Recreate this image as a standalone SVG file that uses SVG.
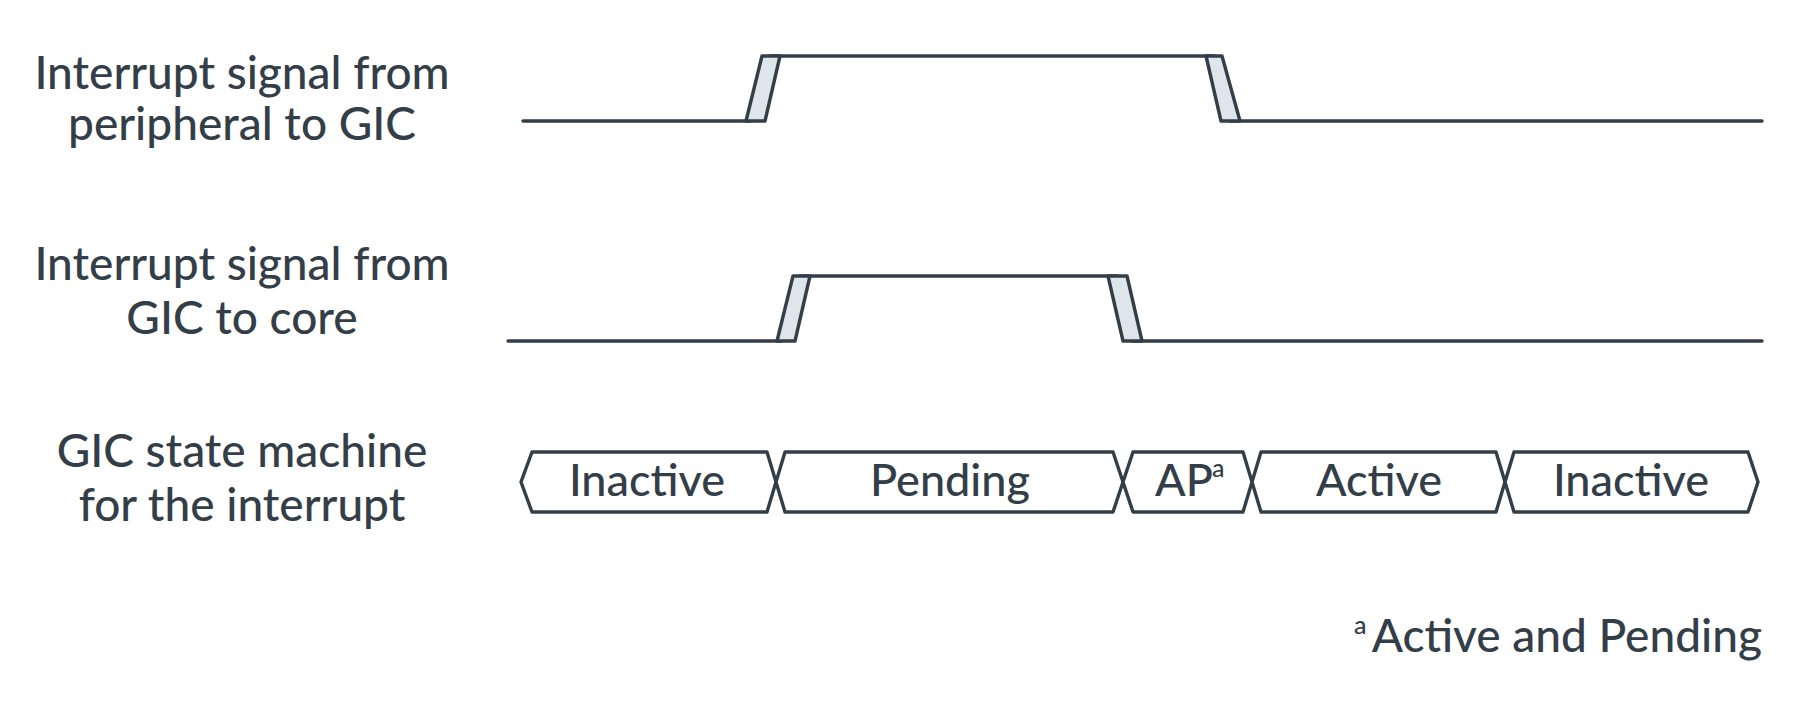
<svg xmlns="http://www.w3.org/2000/svg" width="1798" height="720" viewBox="0 0 1798 720">
<style>
.lbl{font-family:Lato,"Liberation Sans",sans-serif;font-size:46px;font-weight:500;fill:#333e48;text-anchor:middle}
.st{font-family:Lato,"Liberation Sans",sans-serif;font-size:45px;font-weight:500;fill:#333e48;text-anchor:middle}
.sup{font-family:Lato,"Liberation Sans",sans-serif;font-size:25px;font-weight:500;fill:#333e48}
.ln{fill:none;stroke:#333e48;stroke-width:3.4;stroke-linejoin:round;stroke-linecap:round}
.edge{fill:#dfe6e9;stroke:#333e48;stroke-width:3.4;stroke-linejoin:round}
.box{fill:#ffffff;stroke:#333e48;stroke-width:3.4;stroke-linejoin:round}
</style>
<rect width="1798" height="720" fill="#ffffff"/>
<g id="label-peripheral">
<text class="lbl" x="242" y="89">Interrupt signal from</text>
<text class="lbl" x="242" y="140">peripheral to GIC</text>
</g>
<g id="label-core">
<text class="lbl" x="242" y="280">Interrupt signal from</text>
<text class="lbl" x="242" y="334">GIC to core</text>
</g>
<g id="label-state">
<text class="lbl" x="242" y="467">GIC state machine</text>
<text class="lbl" x="242" y="521">for the interrupt</text>
</g>
<g id="connectors">
<g id="wave-peripheral">
<path class="ln" d="M523,121 H750 M770,56 H1214 M1230,121 H1762"/>
<polygon class="edge" points="746,121 765,121 780,56 762,56"/>
<polygon class="edge" points="1206,56 1222,56 1240,121 1221,121"/>
</g>
<g id="wave-core">
<path class="ln" d="M508,341 H781 M800,276 H1117 M1132,341 H1762"/>
<polygon class="edge" points="777,341 795,341 810,276 793,276"/>
<polygon class="edge" points="1108,276 1127,276 1142,341 1123,341"/>
</g>
</g>
<g id="state-inactive-1">
<polygon class="box" points="521,482 532,452 767,452 776,482 767,512 532,512"/>
<text class="st" x="647" y="496">Inactive</text>
</g>
<g id="state-pending">
<polygon class="box" points="776,482 785,452 1113,452 1123,482 1113,512 785,512"/>
<text class="st" x="950" y="496">Pending</text>
</g>
<g id="state-ap">
<polygon class="box" points="1123,482 1133,452 1243,452 1252,482 1243,512 1133,512"/>
<text class="st" x="1184" y="496" style="text-anchor:middle">AP</text>
<text class="sup" x="1212" y="477">a</text>
</g>
<g id="state-active">
<polygon class="box" points="1252,482 1261,452 1496,452 1505,482 1496,512 1261,512"/>
<text class="st" x="1379" y="496">Active</text>
</g>
<g id="state-inactive-2">
<polygon class="box" points="1505,482 1514,452 1748,452 1758,482 1748,512 1514,512"/>
<text class="st" x="1631" y="496">Inactive</text>
</g>
<g id="footnote">
<text class="sup" x="1354" y="634">a</text>
<text class="lbl" x="1762" y="652" style="text-anchor:end">Active and Pending</text>
</g>
</svg>
